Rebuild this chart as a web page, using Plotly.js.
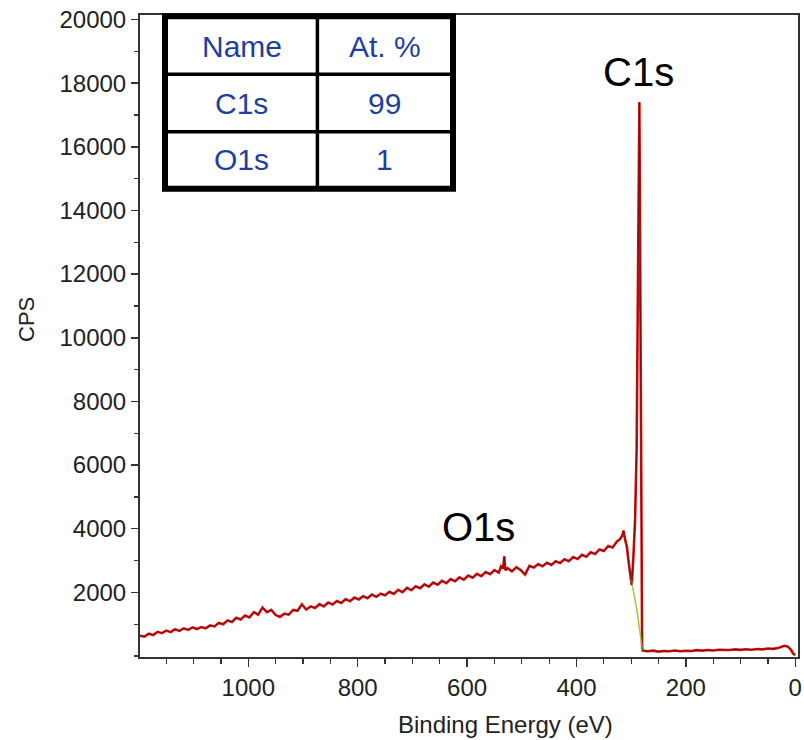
<!DOCTYPE html>
<html>
<head>
<meta charset="utf-8">
<script src="https://cdn.plot.ly/plotly-3.0.1.min.js"></script>
<style>html,body{margin:0;padding:0;background:#fff;}#chart{width:804px;height:740px;}</style>
</head>
<body>
<div id="chart"></div>
<script>
// Survey spectrum (binding energy in eV, counts per second)
const energy = [1198,1190,1182,1174,1166,1158,1150,1142,1134,1126,1118,1110,1102,1094,1086,1078,1070,1062,1054,1046,1038,1030,1022,1014,1006,998,990,982,974,966,958,950,942,934,926,918,910,902,894,886,878,870,862,854,846,838,830,822,814,806,798,790,782,774,766,758,750,742,734,726,718,710,702,694,686,678,670,662,654,646,638,630,622,614,606,598,590,582,574,566,558,550,542,538,534,532,530,526,518,510,502,494,486,478,470,462,454,446,438,430,422,414,406,398,390,382,374,366,358,350,342,334,326,320,316,314,311,308,305,302,299,296,293,290,288,286,285,284,283,282,281,280,279,270,260,250,240,230,220,210,200,190,180,170,160,150,140,130,120,110,100,90,80,70,60,50,40,30,20,14,8,4,0];
const cps = [640,610,700,660,760,720,800,750,840,790,870,820,900,850,910,870,960,930,1040,1000,1120,1070,1200,1150,1270,1210,1380,1300,1520,1380,1450,1290,1230,1330,1300,1450,1420,1620,1460,1560,1510,1630,1560,1680,1620,1730,1670,1790,1720,1840,1780,1880,1820,1930,1860,1960,1910,2020,1950,2080,2010,2140,2070,2190,2130,2250,2180,2310,2240,2360,2290,2420,2350,2470,2400,2530,2460,2580,2510,2640,2570,2700,2620,2820,2750,3130,2700,2760,2660,2790,2700,2560,2830,2780,2890,2820,2930,2860,2980,2920,3040,2980,3110,3050,3180,3120,3260,3210,3350,3300,3460,3410,3600,3680,3800,3940,3650,3450,3000,2550,2230,3100,4200,6500,10000,15000,17400,14000,9000,4000,1200,300,170,150,170,140,160,150,175,150,165,160,185,170,190,175,200,185,190,210,195,215,200,220,210,235,225,260,320,300,200,80,30];
// Fitted flank (green)
const fitEnergy = [300,298,294,290,286,283,281,279];
const fitCps = [2400,2220,1900,1500,1000,600,250,160];

// Peak labels
const peakNames = ['C1s','O1s'];
const peakLabelE = [287,580];
const peakLabelCps = [18350,4050];

// Quantification table
const tableHeader = ['Name','At. %'];
const tableNames = ['C1s','O1s'];
const tableAtPct = [99,1];

// Axis ticks
const xTickVals = [1000,800,600,400,200,0];
const yTickVals = [2000,4000,6000,8000,10000,12000,14000,16000,18000,20000];

const FONT = 'Liberation Sans, Arial, Helvetica, sans-serif';

const traces = [
  {x: energy, y: cps, type:'scatter', mode:'lines', line:{color:'#d31414', width:2.6}, hoverinfo:'skip'},
  {x: fitEnergy, y: fitCps, type:'scatter', mode:'lines', line:{color:'#9ccc3a', width:1.5}, hoverinfo:'skip'},
  {x: energy, y: cps, type:'scatter', mode:'lines', line:{color:'rgba(45,5,5,0.6)', width:0.8}, hoverinfo:'skip'}
];

// table geometry (paper coords)
const tx0 = 0.0380, tx1 = 0.4757, txMid = 0.2696;
const ty0 = 0.7294, ty1 = 0.9980, tyRow1 = 0.9076, tyRow2 = 0.8182;
const colCenters = [0.155, 0.3716];
const rowCenters = [0.9517, 0.8629, 0.775];

const shapes = [
  {type:'rect', xref:'paper', yref:'paper', x0:tx0, x1:tx1, y0:ty0, y1:ty1, fillcolor:'#ffffff', line:{color:'#000', width:6}, layer:'above'},
  {type:'line', xref:'paper', yref:'paper', x0:txMid, x1:txMid, y0:ty0, y1:ty1, line:{color:'#000', width:3.5}},
  {type:'line', xref:'paper', yref:'paper', x0:tx0, x1:tx1, y0:tyRow1, y1:tyRow1, line:{color:'#000', width:3.5}},
  {type:'line', xref:'paper', yref:'paper', x0:tx0, x1:tx1, y0:tyRow2, y1:tyRow2, line:{color:'#000', width:3.5}}
];

const annotations = [];
const cellFont = {family: FONT, size: 30, color: '#1f3f9f'};
const rows = [tableHeader].concat(tableNames.map((n,i)=>[n, String(tableAtPct[i])]));
rows.forEach((r, ri) => {
  r.forEach((txt, ci) => {
    annotations.push({xref:'paper', yref:'paper', x: colCenters[ci], y: rowCenters[ri], text: txt, showarrow:false, font: cellFont, xanchor:'center', yanchor:'middle'});
  });
});
peakNames.forEach((n,i) => {
  annotations.push({x: peakLabelE[i], y: peakLabelCps[i], xref:'x', yref:'y', text:n, showarrow:false, font:{family:FONT, size:40, color:'#000'}, xanchor:'center', yanchor:'middle'});
});
annotations.push({xref:'paper', yref:'paper', x:0.556, y:-0.1059, text:'Binding Energy (eV)', showarrow:false, font:{family:FONT, size:24, color:'#222'}, xanchor:'center', yanchor:'middle'});
annotations.push({xref:'paper', yref:'paper', x:-0.1717, y:0.525, text:'CPS', textangle:-90, showarrow:false, font:{family:FONT, size:22, color:'#222'}, xanchor:'center', yanchor:'middle'});

const layout = {
  width: 804, height: 740,
  margin: {l:140, r:6, t:15, b:83},
  paper_bgcolor:'#ffffff', plot_bgcolor:'#ffffff',
  showlegend:false,
  font:{family: FONT, color:'#222'},
  xaxis: {
    range:[1198,-5], autorange:false,
    showgrid:false, zeroline:false,
    showline:true, linecolor:'#333', linewidth:2, mirror:true,
    ticks:'outside', ticklen:8, tickwidth:1.5, tickcolor:'#333',
    tickmode:'array', tickvals:xTickVals, ticktext:xTickVals.map(String),
    tickfont:{family:FONT, size:24, color:'#222'},
    minor:{tickmode:'linear', tick0:0, dtick:50, ticks:'outside', ticklen:5, tickwidth:1.2, tickcolor:'#333', showgrid:false}
  },
  yaxis: {
    range:[-30,20140], autorange:false,
    showgrid:false, zeroline:false,
    showline:true, linecolor:'#333', linewidth:2, mirror:true,
    ticks:'outside', ticklen:7, tickwidth:1.5, tickcolor:'#333',
    tickmode:'array', tickvals:yTickVals, ticktext:yTickVals.map(String),
    tickfont:{family:FONT, size:24, color:'#222'},
    minor:{tickmode:'linear', tick0:0, dtick:1000, ticks:'outside', ticklen:4, tickwidth:1.2, tickcolor:'#333', showgrid:false}
  },
  shapes: shapes,
  annotations: annotations
};

Plotly.newPlot('chart', traces, layout, {displayModeBar:false, staticPlot:true});
</script>
</body>
</html>
